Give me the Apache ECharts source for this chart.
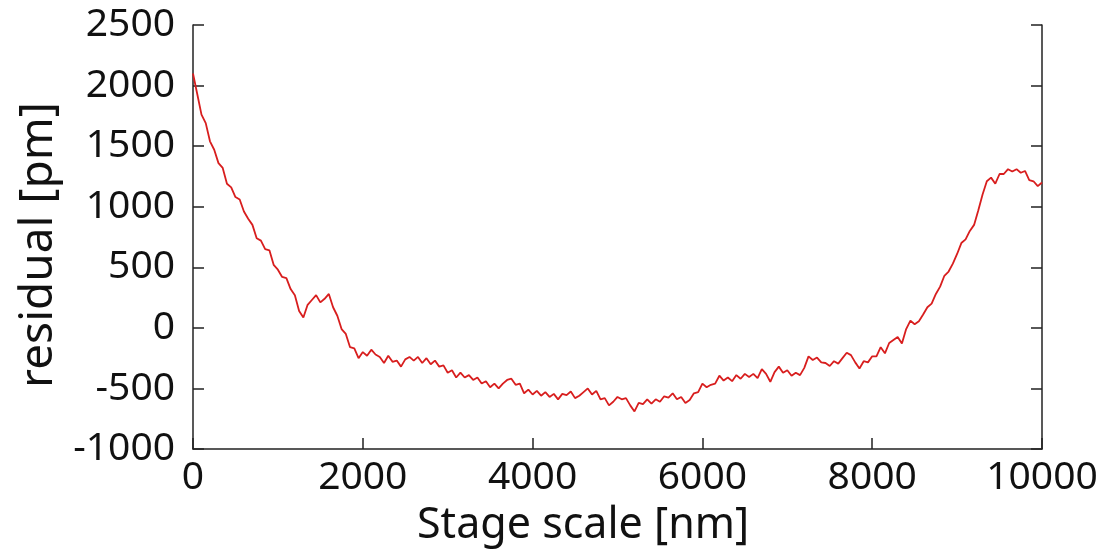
<!DOCTYPE html>
<html>
<head>
<meta charset="utf-8">
<script src="https://cdn.jsdelivr.net/npm/echarts@6/dist/echarts.min.js"></script>
<style>html,body{margin:0;padding:0;background:#fff}#c{width:1107px;height:557px}</style>
</head>
<body>
<div id="c"></div>
<script>
const stepNm = 50;
const residualPm = [
 2100,1930,1760,1690,1540,1470,1360,1320,1190,1160,
 1080,1060,960,900,850,740,720,650,640,520,
 480,420,410,320,270,140,85,190,230,270,
 210,240,280,170,100,-10,-50,-160,-170,-250,
 -200,-230,-180,-220,-240,-290,-230,-280,-270,-320,
 -260,-240,-270,-240,-290,-250,-300,-270,-320,-310,
 -370,-350,-410,-370,-410,-390,-430,-410,-460,-440,
 -490,-460,-500,-460,-430,-420,-470,-460,-540,-510,
 -550,-520,-560,-530,-570,-545,-590,-545,-555,-525,
 -580,-560,-530,-500,-550,-520,-590,-580,-640,-610,
 -570,-590,-580,-640,-690,-620,-630,-590,-625,-590,
 -610,-565,-575,-540,-590,-570,-620,-595,-540,-530,
 -460,-490,-470,-460,-395,-435,-410,-440,-390,-420,
 -380,-405,-380,-415,-340,-380,-445,-365,-320,-370,
 -350,-395,-370,-390,-330,-235,-265,-245,-285,-290,
 -315,-275,-295,-250,-205,-225,-285,-335,-275,-285,
 -235,-235,-160,-210,-125,-100,-75,-130,-10,60,
 30,55,110,170,200,280,340,430,465,530,
 610,700,730,800,850,970,1100,1210,1240,1190,
 1270,1270,1310,1290,1310,1280,1295,1220,1210,1170,
 1200
];
const yTicks = [-1000, -500, 0, 500, 1000, 1500, 2000, 2500];
const xTicks = [0, 2000, 4000, 6000, 8000, 10000];
const xTitle = 'Stage scale [nm]';
const yTitle = 'residual [pm]';

const data = residualPm.map((v, i) => [i * stepNm, v]);
const font = 'Noto Sans';
const axisCol = '#222';
const plain = v => String(v);

const chart = echarts.init(document.getElementById('c'), null, {renderer: 'canvas'});
chart.setOption({
  animation: false,
  backgroundColor: '#fff',
  title: {
    text: xTitle, left: 412, top: 499,
    textStyle: {fontFamily: font, fontSize: 43, fontWeight: 'normal', color: '#111'}
  },
  grid: {left: 193, right: 65, top: 25, bottom: 108},
  xAxis: {
    type: 'value', min: xTicks[0], max: xTicks[xTicks.length - 1], interval: 2000,
    axisLine: {onZero: false, lineStyle: {color: axisCol, width: 1.5}},
    axisTick: {inside: true, length: 11, lineStyle: {color: axisCol, width: 1.5}},
    axisLabel: {fontFamily: font, fontSize: 39, color: '#111', margin: 9, formatter: plain},
    splitLine: {show: false}
  },
  yAxis: [{
    type: 'value', min: yTicks[0], max: yTicks[yTicks.length - 1], interval: 500,
    name: yTitle, nameLocation: 'middle', nameGap: 126,
    nameTextStyle: {fontFamily: font, fontSize: 46, color: '#111', padding: [0, 16, 0, 0]},
    axisLine: {show: true, onZero: false, lineStyle: {color: axisCol, width: 1.5}},
    axisTick: {show: true, inside: true, length: 11, lineStyle: {color: axisCol, width: 1.5}},
    axisLabel: {fontFamily: font, fontSize: 39, color: '#111', margin: 18, formatter: plain},
    splitLine: {show: false}
  }, {
    type: 'value', position: 'right', min: yTicks[0], max: yTicks[yTicks.length - 1], interval: 500,
    axisLine: {show: true, onZero: false, lineStyle: {color: axisCol, width: 1.5}},
    axisTick: {show: true, inside: true, length: 11, lineStyle: {color: axisCol, width: 1.5}},
    axisLabel: {show: false},
    splitLine: {show: false}
  }],
  series: [{
    type: 'line', data: data, showSymbol: false, symbol: 'none',
    lineStyle: {color: '#d81e1e', width: 1.8}
  }]
});
</script>
</body>
</html>
